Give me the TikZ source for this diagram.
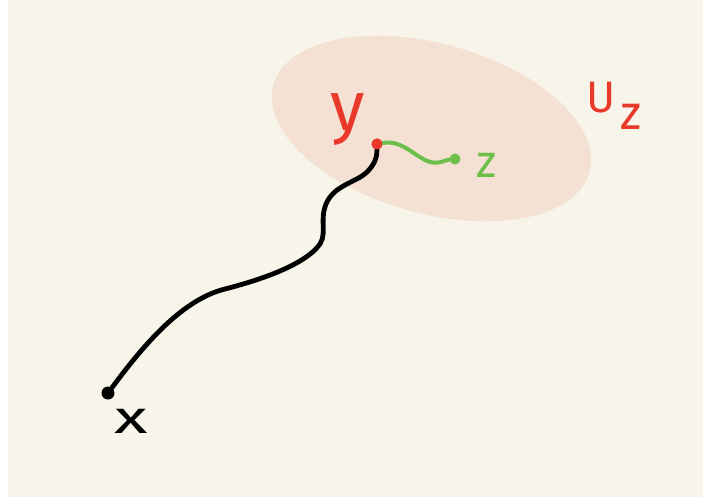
\documentclass[tikz,border=0pt]{standalone}
\usepackage{fontspec}
\setmainfont{Fira Sans}
\definecolor{bgcream}{RGB}{247,245,233}
\definecolor{peach}{RGB}{244,225,212}
\definecolor{penred}{RGB}{232,57,42}
\definecolor{pengreen}{RGB}{108,192,74}
\begin{document}
\begin{tikzpicture}[x=1pt,y=-1pt,
  dotnode/.style={circle,inner sep=0pt,minimum size=#1},
  lbl/.style={inner sep=0pt,outer sep=0pt},
  blackpen/.style={line width=4.8pt,line cap=round,line join=round,black},
  greenpen/.style={line width=4pt,line cap=round,line join=round,pengreen}]
\useasboundingbox (0,0) rectangle (703,497);
\fill[white] (0,0) rectangle (703,497);
\fill[bgcream] (8,0) rectangle (703,497);
\fill[peach, rotate around={-15.4:(431.5,128.5)}] (431.5,128.5) ellipse [x radius=164, y radius=85];
% dots
\node[dotnode=13pt,fill=black] (xd) at (108,393) {};
\node[dotnode=11pt,fill=penred] (yd) at (377,144) {};
\node[dotnode=11pt,fill=pengreen] (zd) at (455,159) {};
% curves
\draw[blackpen] (xd) .. controls (140,350) and (180,300) .. (225,289)
  .. controls (260,280) and (305,265) .. (320,244)
  .. controls (328,232) and (317,215) .. (330,197)
  .. controls (340,184) and (358,181) .. (367,172)
  .. controls (375,164) and (377,157) .. (yd);
\draw[greenpen] (yd) .. controls (400,140) and (410,152) .. (425,160)
  .. controls (437,166) and (445,160) .. (zd);
\fill[penred] (yd) circle (5.5pt);
% labels
\node[lbl,text=penred,font=\fontsize{70}{70}\selectfont] (ylab) at (348,120) {y};
\node[lbl,text=pengreen,font=\fontsize{46}{46}\selectfont] (zlab) at (487,165) {z};
\node[lbl,text=penred,anchor=base west,font=\fontsize{44}{44}\selectfont] (ulab) at (586,113) {U\hspace{5pt}\raisebox{-17pt}{\fontsize{48}{48}\selectfont z}};
\node[lbl,text=black,xscale=1.5,font=\fontsize{46}{46}\selectfont] (xlab) at (131,421) {x};
\end{tikzpicture}
\end{document}
